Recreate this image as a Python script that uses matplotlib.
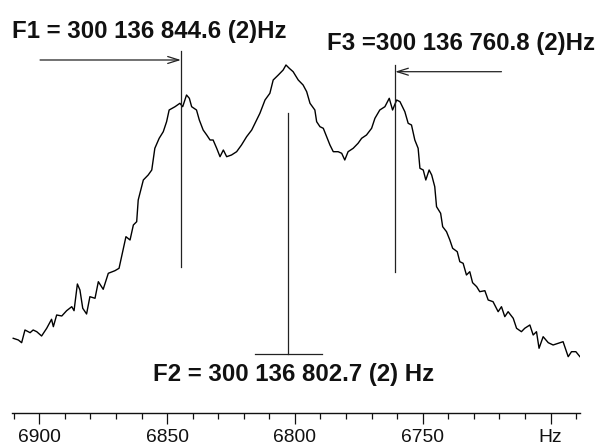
import matplotlib
matplotlib.use("Agg")
import matplotlib.pyplot as plt
import numpy as np

plt.rcParams.update({
    "font.family": ["Liberation Sans", "DejaVu Sans"],
    "figure.dpi": 100,
    "savefig.dpi": 100,
})

# spectrum (frequency offset in Hz, intensity in arb. units)
freq = [6910.2, 6908.2, 6906.9, 6905.6, 6903.6, 6902.4, 6901.0, 6899.1, 6897.1, 6895.2,
        6894.5, 6893.2, 6891.2, 6889.3, 6887.3, 6886.4, 6885.1, 6884.1, 6883.0, 6881.5,
        6880.2, 6878.2, 6876.9, 6875.0, 6873.0, 6870.4, 6868.8, 6867.8, 6866.1, 6864.5,
        6863.2, 6861.9, 6861.3, 6859.3, 6857.4, 6856.0, 6854.8, 6853.1, 6851.5, 6850.2,
        6849.2, 6846.9, 6845.0, 6843.9, 6842.4, 6841.3, 6840.4, 6838.5, 6837.4, 6835.9,
        6834.5, 6833.2, 6832.0, 6830.6, 6829.3, 6828.0, 6826.7, 6824.8, 6822.8, 6820.9,
        6818.9, 6816.9, 6815.0, 6813.7, 6811.7, 6809.8, 6808.5, 6806.5, 6804.6, 6803.5,
        6802.2, 6800.7, 6798.7, 6796.8, 6795.4, 6794.1, 6792.2, 6791.5, 6790.2, 6788.9,
        6787.6, 6786.3, 6785.0, 6783.1, 6781.7, 6780.5, 6779.2, 6777.2, 6775.3, 6773.9,
        6772.0, 6770.0, 6768.7, 6766.8, 6764.8, 6763.1, 6761.8, 6760.2, 6758.9, 6757.0,
        6755.7, 6754.4, 6753.1, 6751.8, 6751.1, 6749.8, 6748.8, 6747.5, 6746.5, 6745.3,
        6744.6, 6743.0, 6742.2, 6740.7, 6739.4, 6738.3, 6736.5, 6735.5, 6734.2, 6732.9,
        6731.6, 6730.5, 6728.9, 6727.7, 6725.7, 6724.4, 6722.5, 6720.5, 6719.2, 6717.9,
        6716.6, 6714.6, 6713.3, 6711.4, 6710.1, 6708.1, 6706.8, 6705.5, 6704.5, 6702.9,
        6700.9, 6699.0, 6697.0, 6695.1, 6694.0, 6693.1, 6691.8, 6690.1, 6688.5]
intensity = [21.7, 20.0, 17.3, 30.0, 27.3, 30.0, 28.3, 24.0, 31.7, 40.7,
             33.3, 45.0, 44.0, 49.3, 53.3, 49.3, 76.0, 70.0, 51.7, 46.0,
             63.3, 61.7, 78.3, 70.7, 86.7, 89.3, 91.7, 103.3, 123.3, 120.0,
             135.0, 138.3, 160.0, 180.0, 185.0, 190.0, 211.7, 221.7, 228.3, 238.3,
             250.0, 253.3, 256.7, 253.3, 265.0, 261.7, 253.3, 250.0, 240.0, 230.0,
             225.0, 220.0, 220.0, 211.7, 203.3, 210.0, 203.3, 205.0, 208.3, 215.0,
             223.3, 230.0, 240.0, 246.7, 260.0, 266.7, 280.0, 285.0, 290.0, 295.0,
             291.7, 288.3, 280.0, 275.0, 268.3, 256.7, 250.0, 238.3, 233.3, 231.7,
             223.3, 215.0, 208.3, 208.3, 206.7, 200.0, 208.3, 211.7, 216.7, 221.7,
             225.0, 231.7, 241.7, 250.0, 253.3, 261.7, 250.0, 260.0, 258.3, 248.3,
             236.7, 235.0, 220.0, 211.7, 191.7, 190.0, 180.0, 190.0, 185.0, 173.3,
             153.3, 146.7, 133.3, 128.3, 120.0, 111.7, 108.3, 98.3, 96.7, 85.0,
             88.3, 77.3, 73.3, 68.3, 69.3, 60.0, 58.3, 48.3, 53.3, 43.3,
             48.3, 41.7, 31.7, 28.3, 31.7, 35.0, 25.0, 28.3, 11.7, 23.3,
             17.3, 15.0, 16.7, 18.3, 10.0, 3.3, 8.3, 8.3, 3.3]

# fitted line positions (offset part of 300 136 xxx Hz)
f1 = 6844.6
f2 = 6802.7
f3 = 6760.8
labels = ["F1 = 300 136 844.6 (2)Hz",
          "F2 = 300 136 802.7 (2) Hz",
          "F3 =300 136 760.8 (2)Hz"]

major_ticks = [6900, 6850, 6800, 6750, 6700]
major_labels = ["6900", "6850", "6800", "6750", "Hz"]
minor_ticks = np.arange(6690, 6911, 10)

fig = plt.figure(figsize=(6.05, 4.46))
ax = fig.add_axes([0.0193, 0.0747, 0.9393, 0.9253])
ax.set_xlim(6910.8, 6688.5)
ax.set_ylim(-52.7, 360)

ax.plot(freq, intensity, color="black", lw=1.0)

line_col = "#222222"
arrow = dict(arrowstyle="->,head_length=0.8,head_width=0.25",
             color=line_col, lw=0.9, shrinkA=0, shrinkB=0)
# F1 marker and arrow
ax.plot([f1, f1], [93, 309], color=line_col, lw=0.9)
ax.annotate("", xy=(f1, 300), xytext=(6899.7, 300), arrowprops=arrow)
# F3 marker and arrow
ax.plot([f3, f3], [88, 295], color=line_col, lw=0.9)
ax.annotate("", xy=(f3, 288.3), xytext=(6719.2, 288.3), arrowprops=arrow)
# F2 marker with foot
ax.plot([f2, f2], [6, 246.7], color=line_col, lw=0.9)
ax.plot([6815.6, 6789.6], [6, 6], color=line_col, lw=0.9)

tfont = dict(fontsize=17.3, fontweight="bold", color="#111111",
             va="baseline", ha="left")
ax.text(6910.8, 321.7, labels[0], **tfont)
ax.text(6855.4, -20.7, labels[1], **tfont)
ax.text(6787.6, 310, labels[2], clip_on=False, **tfont)

for s in ["left", "top", "right"]:
    ax.spines[s].set_visible(False)
ax.spines["bottom"].set_linewidth(1.0)
ax.spines["bottom"].set_color("#111111")
ax.set_yticks([])
ax.set_xticks(major_ticks)
ax.set_xticklabels(major_labels)
ax.set_xticks(minor_ticks, minor=True)
ax.tick_params(axis="x", which="major", direction="out", length=7.7, width=0.9,
               pad=4, labelsize=13.9, colors="#111111")
ax.tick_params(axis="x", which="minor", direction="out", length=4.1, width=0.9,
               colors="#111111")

fig.savefig("out.png", dpi=100)
